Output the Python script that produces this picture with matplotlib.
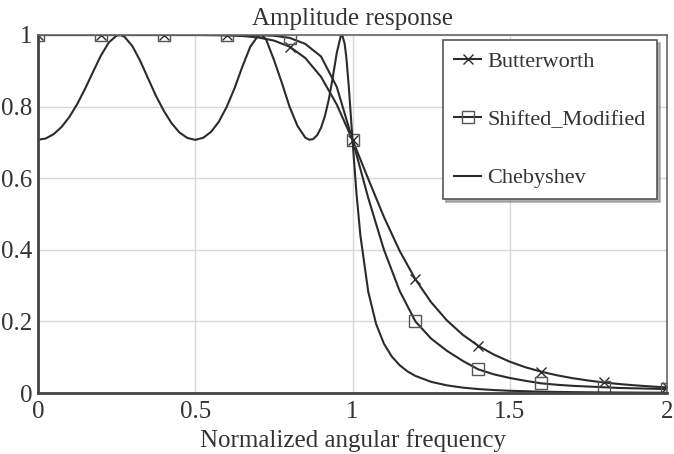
import matplotlib
matplotlib.use("Agg")
import matplotlib.pyplot as plt

# 読み取った値
x_b = [i * 0.05 for i in range(41)]
butterworth = [1.0, 1.0, 1.0, 1.0, 1.0, 1.0, 1.0, 1.0, 1.0, 1.0,
               1.0, 0.9996, 0.9989, 0.9972, 0.9932, 0.9845, 0.9674, 0.9357, 0.8831, 0.8057,
               0.7071, 0.5981, 0.4916, 0.3968, 0.3176, 0.2536, 0.2029, 0.1630, 0.1317, 0.1070,
               0.0875, 0.0719, 0.0595, 0.0495, 0.0414, 0.0348, 0.0294, 0.0249, 0.0213, 0.0182,
               0.0156]
shifted = [1.0, 1.0, 1.0, 1.0, 1.0, 1.0, 1.0, 1.0, 1.0, 1.0,
           1.0, 1.0, 1.0, 1.0, 1.0, 0.998, 0.992, 0.975, 0.94, 0.855,
           0.707, 0.545, 0.40, 0.285, 0.20, 0.152, 0.118, 0.09, 0.066, 0.052,
           0.042, 0.034, 0.027, 0.023, 0.020, 0.018, 0.016, 0.014, 0.013, 0.012,
           0.011]

x_c = [0.0, 0.025, 0.05, 0.075, 0.1, 0.125, 0.15, 0.175, 0.2, 0.225,
       0.25, 0.2625, 0.275, 0.3, 0.325, 0.35, 0.375, 0.4, 0.425, 0.45,
       0.475, 0.5, 0.525, 0.55, 0.575, 0.6, 0.625, 0.65, 0.675, 0.7,
       0.7125, 0.725, 0.75, 0.775, 0.8, 0.825, 0.85, 0.8625, 0.875, 0.8875,
       0.9, 0.9125, 0.925, 0.9375, 0.95, 0.9625, 0.9675, 0.975, 0.98, 0.9875,
       0.995, 1.0, 1.0125, 1.025, 1.05, 1.075, 1.1, 1.125, 1.15, 1.175,
       1.2, 1.25, 1.3, 1.35, 1.4, 1.45, 1.5, 1.6, 1.7, 1.8,
       1.9, 2.0]
chebyshev = [0.7071, 0.7111, 0.7231, 0.7432, 0.7715, 0.8075, 0.8504, 0.8970, 0.9425, 0.9790,
             0.9985, 0.9997, 0.9950, 0.9691, 0.9277, 0.8787, 0.8302, 0.7882, 0.7532, 0.7275,
             0.7124, 0.7071, 0.7127, 0.7292, 0.7577, 0.7992, 0.8514, 0.9120, 0.9672, 0.9982,
             0.9989, 0.9882, 0.9310, 0.8674, 0.7992, 0.7460, 0.7133, 0.7074, 0.7093, 0.7200,
             0.7410, 0.7742, 0.8213, 0.8828, 0.9500, 0.9966, 0.9994, 0.9757, 0.9407, 0.8640,
             0.7712, 0.7071, 0.5591, 0.4405, 0.2832, 0.1931, 0.1375, 0.1018, 0.0775, 0.0603,
             0.0477, 0.0312, 0.0214, 0.0151, 0.0110, 0.0082, 0.0062, 0.0037, 0.0024, 0.0016,
             0.0011, 0.0007]

plt.rcParams['font.family'] = ['Liberation Serif', 'DejaVu Serif']
c_line = '#2b2b2b'
c_text = '#333333'

fig = plt.figure(figsize=(6.74, 4.54), dpi=100)
ax = fig.add_axes([38 / 674, 1 - 393 / 454, 629 / 674, 358 / 454])

ax.plot(x_b, butterworth, color=c_line, lw=1.5, marker='x', ms=7, mew=1.0,
        markevery=4, label='Butterworth')
ax.plot(x_b, shifted, color=c_line, lw=1.5, marker='s', ms=9, mew=1.0,
        mfc='none', mec='#555555', markevery=4, label='Shifted_Modified')
ax.plot(x_c, chebyshev, color=c_line, lw=1.5, label='Chebyshev')

ax.set_xlim(0, 2)
ax.set_ylim(0, 1)
ax.set_xticks([0, 0.5, 1, 1.5, 2])
ax.set_xticklabels(['0', '0.5', '1', '1.5', '2'])
ax.set_yticks([0, 0.2, 0.4, 0.6, 0.8, 1])
ax.set_yticklabels(['0', '0.2', '0.4', '0.6', '0.8', '1'])
ax.tick_params(length=0, labelsize=18, colors=c_text, pad=4)
ax.tick_params(axis='x', pad=6)
ax.grid(True, color='#d8d8d8', lw=1.0)
ax.set_axisbelow(True)

# 枠線
for s in ['left', 'bottom']:
    ax.spines[s].set_color('#444444')
    ax.spines[s].set_linewidth(2.0)
for s in ['top', 'right']:
    ax.spines[s].set_color('#666666')
    ax.spines[s].set_linewidth(1.2)

ax.set_title('Amplitude response', fontsize=18, color=c_text, pad=7)
ax.set_xlabel('Normalized angular frequency', fontsize=18, color=c_text, labelpad=4)

leg = ax.legend(loc='upper right', bbox_to_anchor=(0.984, 0.986), borderaxespad=0,
                fontsize=16, labelspacing=1.7, handlelength=1.2, handletextpad=0.3,
                borderpad=0.5, fancybox=False, numpoints=1,
                shadow={'color': '#999999', 'alpha': 0.8})
leg.get_frame().set_edgecolor('#555555')
leg.get_frame().set_linewidth(1.2)
for t in leg.get_texts():
    t.set_color(c_text)

fig.savefig('out.png', dpi=100)
